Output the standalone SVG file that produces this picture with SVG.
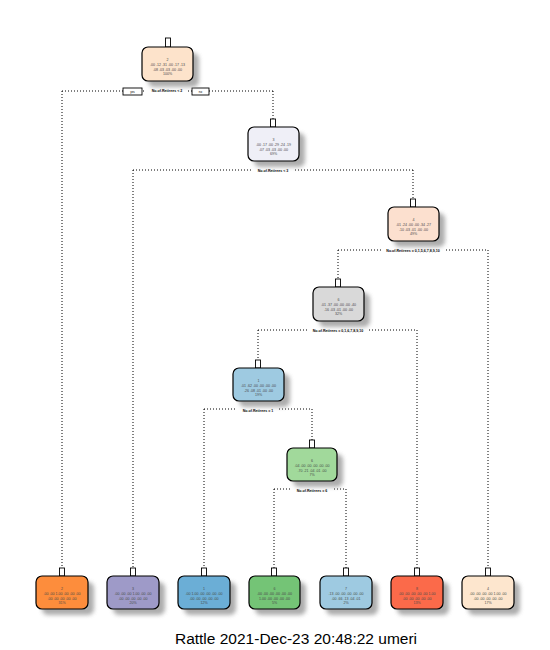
<svg xmlns="http://www.w3.org/2000/svg" width="550" height="650" viewBox="0 0 550 650">
  <defs>
    <filter id="soft" x="-30%" y="-30%" width="160%" height="160%">
      <feGaussianBlur stdDeviation="2.3"/>
    </filter>
    <style>
      .edge { fill: none; stroke: #000; stroke-width: 1; stroke-dasharray: 1 2; }
      .box { stroke: #000; stroke-width: 1.2; }
      .shadow { fill: #999; opacity: 0.8; filter: url(#soft); }
      .tab { fill: #fff; stroke: #000; stroke-width: 0.9; }
      .nt { font-family: "Liberation Sans", Arial, sans-serif; font-size: 3.6px; fill: #4a4a4a; text-anchor: middle; }
      .split { font-family: "Liberation Sans", Arial, sans-serif; font-size: 3.6px; font-weight: bold; fill: #000; text-anchor: middle; }
      .lblbg { fill: #fff; }
      .yn { fill: #fff; stroke: #000; stroke-width: 0.9; }
      .title { font-family: "Liberation Sans", Arial, sans-serif; font-size: 15.5px; fill: #000; text-anchor: middle; }
    </style>
  </defs>

  <rect width="550" height="650" fill="#fff"/>

  <!-- connectors -->
  <g id="connectors">
    <path class="edge" d="M62,91 H273 M62,91 V568 M273,91 V119"/>
    <path class="edge" d="M133,170 H413 M133,170 V568 M413,170 V199"/>
    <path class="edge" d="M338,250 H488 M488,250 V568 M338,250 V279"/>
    <path class="edge" d="M258,330 H417 M417,330 V568 M258,330 V360"/>
    <path class="edge" d="M204,409 H312 M204,409 V568 M312,409 V440"/>
    <path class="edge" d="M274,489 H346 M274,489 V568 M346,489 V568"/>
  </g>

  <!-- split labels -->
  <g id="splits">
    <rect class="yn" x="123" y="88" width="19" height="7"/>
    <text class="split" x="132.5" y="92.7" style="font-weight:normal;font-size:3px">yes</text>
    <rect class="yn" x="192" y="88" width="17" height="7"/>
    <text class="split" x="200.5" y="92.7" style="font-weight:normal;font-size:3px">no</text>
    <rect class="lblbg" x="146" y="89" width="42" height="4"/>
    <text class="split" x="167" y="92.3">No.of.Retirees &lt; 2</text>
    <rect class="lblbg" x="252" y="168" width="42" height="5"/>
    <text class="split" x="273" y="172.3">No.of.Retirees &lt; 3</text>
    <rect class="lblbg" x="381" y="248" width="64" height="5"/>
    <text class="split" x="413" y="252.3">No.of.Retirees = 0,1,5,6,7,8,9,10</text>
    <rect class="lblbg" x="308" y="328" width="60" height="5"/>
    <text class="split" x="338" y="332.3">No.of.Retirees = 0,1,6,7,8,9,10</text>
    <rect class="lblbg" x="237" y="408" width="42" height="5"/>
    <text class="split" x="258" y="411.8">No.of.Retirees = 1</text>
    <rect class="lblbg" x="291" y="488" width="42" height="5"/>
    <text class="split" x="312" y="491.8">No.of.Retirees = 6</text>
  </g>

  <!-- internal nodes -->
  <g id="node1">
    <rect class="shadow" x="148" y="53" width="51" height="34" rx="6"/>
    <rect class="tab" x="165.5" y="38" width="5" height="9"/>
    <rect class="box" x="142" y="47" width="51" height="34" rx="6" fill="#fde3cb"/>
    <text class="nt" x="167.5" y="61">2</text>
    <text class="nt" x="167.5" y="66">.00 .12 .31 .00 .17 .13</text>
    <text class="nt" x="167.5" y="70.5">.08 .03 .03 .00 .00</text>
    <text class="nt" x="167.5" y="75">100%</text>
  </g>
  <g id="node2">
    <rect class="shadow" x="254" y="133" width="51" height="34" rx="6"/>
    <rect class="tab" x="270.5" y="119" width="5" height="8"/>
    <rect class="box" x="248" y="127" width="51" height="34" rx="6" fill="#efeff7"/>
    <text class="nt" x="273.5" y="141">3</text>
    <text class="nt" x="273.5" y="146">.00 .17 .00 .29 .24 .19</text>
    <text class="nt" x="273.5" y="150.5">.07 .03 .03 .00 .00</text>
    <text class="nt" x="273.5" y="155">69%</text>
  </g>
  <g id="node4">
    <rect class="shadow" x="394" y="213" width="51" height="34" rx="6"/>
    <rect class="tab" x="410.5" y="199" width="5" height="8"/>
    <rect class="box" x="388" y="207" width="51" height="34" rx="6" fill="#fce0cf"/>
    <text class="nt" x="413.5" y="221">4</text>
    <text class="nt" x="413.5" y="226">.01 .24 .00 .00 .34 .27</text>
    <text class="nt" x="413.5" y="230.5">.10 .03 .01 .00 .00</text>
    <text class="nt" x="413.5" y="235">49%</text>
  </g>
  <g id="node8">
    <rect class="shadow" x="319" y="293" width="51" height="34" rx="6"/>
    <rect class="tab" x="335.5" y="279" width="5" height="8"/>
    <rect class="box" x="313" y="287" width="51" height="34" rx="6" fill="#d9d9d9"/>
    <text class="nt" x="338.5" y="301">6</text>
    <text class="nt" x="338.5" y="306">.01 .37 .00 .00 .00 .40</text>
    <text class="nt" x="338.5" y="310.5">.16 .03 .01 .00 .00</text>
    <text class="nt" x="338.5" y="315">32%</text>
  </g>
  <g id="node16">
    <rect class="shadow" x="239" y="374" width="51" height="33" rx="6"/>
    <rect class="tab" x="255.5" y="360" width="5" height="8"/>
    <rect class="box" x="233" y="368" width="51" height="33" rx="6" fill="#9ecae1"/>
    <text class="nt" x="258.5" y="382">1</text>
    <text class="nt" x="258.5" y="387">.01 .62 .00 .00 .00 .00</text>
    <text class="nt" x="258.5" y="391.5">.26 .08 .01 .00 .00</text>
    <text class="nt" x="258.5" y="396">19%</text>
  </g>
  <g id="node33">
    <rect class="shadow" x="293" y="454" width="50" height="33" rx="6"/>
    <rect class="tab" x="309.5" y="440" width="5" height="8"/>
    <rect class="box" x="287" y="448" width="50" height="33" rx="6" fill="#a1d99b"/>
    <text class="nt" x="312" y="462">6</text>
    <text class="nt" x="312" y="467">.04 .00 .00 .00 .00 .00</text>
    <text class="nt" x="312" y="471.5">.70 .21 .04 .01 .00</text>
    <text class="nt" x="312" y="476">7%</text>
  </g>

  <!-- leaves -->
  <g id="leaf2">
    <rect class="shadow" x="42" y="582" width="52" height="33" rx="6"/>
    <rect class="tab" x="59.5" y="568" width="5" height="8"/>
    <rect class="box" x="36" y="576" width="52" height="33" rx="6" fill="#fd8d3c"/>
    <text class="nt" x="62" y="590">2</text>
    <text class="nt" x="62" y="595">.00 .00 1.00 .00 .00 .00</text>
    <text class="nt" x="62" y="599.5">.00 .00 .00 .00 .00</text>
    <text class="nt" x="62" y="604">31%</text>
  </g>
  <g id="leaf3">
    <rect class="shadow" x="113" y="582" width="52" height="33" rx="6"/>
    <rect class="tab" x="130.5" y="568" width="5" height="8"/>
    <rect class="box" x="107" y="576" width="52" height="33" rx="6" fill="#9e9ac8"/>
    <text class="nt" x="133" y="590">3</text>
    <text class="nt" x="133" y="595">.00 .00 .00 1.00 .00 .00</text>
    <text class="nt" x="133" y="599.5">.00 .00 .00 .00 .00</text>
    <text class="nt" x="133" y="604">20%</text>
  </g>
  <g id="leaf1">
    <rect class="shadow" x="184" y="582" width="52" height="33" rx="6"/>
    <rect class="tab" x="201.5" y="568" width="5" height="8"/>
    <rect class="box" x="178" y="576" width="52" height="33" rx="6" fill="#6baed6"/>
    <text class="nt" x="204" y="590">1</text>
    <text class="nt" x="204" y="595">.00 1.00 .00 .00 .00 .00</text>
    <text class="nt" x="204" y="599.5">.00 .00 .00 .00 .00</text>
    <text class="nt" x="204" y="604">12%</text>
  </g>
  <g id="leaf6">
    <rect class="shadow" x="255" y="582" width="51" height="33" rx="6"/>
    <rect class="tab" x="271.5" y="568" width="5" height="8"/>
    <rect class="box" x="249" y="576" width="51" height="33" rx="6" fill="#74c476"/>
    <text class="nt" x="274.5" y="590">6</text>
    <text class="nt" x="274.5" y="595">.00 .00 .00 .00 .00 .00</text>
    <text class="nt" x="274.5" y="599.5">1.00 .00 .00 .00 .00</text>
    <text class="nt" x="274.5" y="604">5%</text>
  </g>
  <g id="leaf7">
    <rect class="shadow" x="326" y="582" width="52" height="33" rx="6"/>
    <rect class="tab" x="343.5" y="568" width="5" height="8"/>
    <rect class="box" x="320" y="576" width="52" height="33" rx="6" fill="#9ecae1"/>
    <text class="nt" x="346" y="590">7</text>
    <text class="nt" x="346" y="595">.13 .00 .00 .00 .00 .00</text>
    <text class="nt" x="346" y="599.5">.00 .66 .13 .04 .01</text>
    <text class="nt" x="346" y="604">2%</text>
  </g>
  <g id="leaf8">
    <rect class="shadow" x="397" y="582" width="52" height="33" rx="6"/>
    <rect class="tab" x="414.5" y="568" width="5" height="8"/>
    <rect class="box" x="391" y="576" width="52" height="33" rx="6" fill="#fb6a4a"/>
    <text class="nt" x="417" y="590">8</text>
    <text class="nt" x="417" y="595">.00 .00 .00 .00 .00 1.00</text>
    <text class="nt" x="417" y="599.5">.00 .00 .00 .00 .00</text>
    <text class="nt" x="417" y="604">13%</text>
  </g>
  <g id="leaf4">
    <rect class="shadow" x="468" y="582" width="52" height="33" rx="6"/>
    <rect class="tab" x="485.5" y="568" width="5" height="8"/>
    <rect class="box" x="462" y="576" width="52" height="33" rx="6" fill="#fde6ce"/>
    <text class="nt" x="488" y="590">4</text>
    <text class="nt" x="488" y="595">.00 .00 .00 .00 1.00 .00</text>
    <text class="nt" x="488" y="599.5">.00 .00 .00 .00 .00</text>
    <text class="nt" x="488" y="604">17%</text>
  </g>

  <text class="title" x="296" y="644">Rattle 2021-Dec-23 20:48:22 umeri</text>
</svg>
